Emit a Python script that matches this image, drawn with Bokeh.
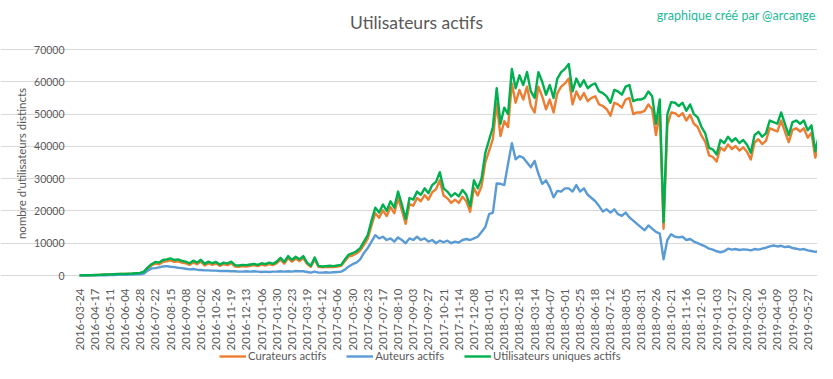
import math
import numpy as np
from bokeh.plotting import figure
from bokeh.models import (Range1d, FixedTicker, Label, Legend, LegendItem,
                          LinearAxis, Grid, BasicTickFormatter)
from bokeh.embed import file_html
from bokeh.resources import INLINE

# category labels shown every 24 points on the axis
tick_labels = [
    "2016-03-24", "2016-04-17", "2016-05-11", "2016-06-04", "2016-06-28", "2016-07-22",
    "2016-08-15", "2016-09-08", "2016-10-02", "2016-10-26", "2016-11-19", "2016-12-13",
    "2017-01-06", "2017-01-30", "2017-02-23", "2017-03-19", "2017-04-12", "2017-05-06",
    "2017-05-30", "2017-06-23", "2017-07-17", "2017-08-10", "2017-09-03", "2017-09-27",
    "2017-10-21", "2017-11-14", "2017-12-08", "2018-01-01", "2018-01-25", "2018-02-18",
    "2018-03-14", "2018-04-07", "2018-05-01", "2018-05-25", "2018-06-18", "2018-07-12",
    "2018-08-05", "2018-08-31", "2018-09-26", "2018-10-21", "2018-11-16", "2018-12-10",
    "2019-01-03", "2019-01-27", "2019-02-20", "2019-03-16", "2019-04-09", "2019-05-03",
    "2019-05-27",
]
LABEL_EVERY = 24   # categories between labels
STEP = 6           # categories between sampled values
y_ticks = [0, 10000, 20000, 30000, 40000, 50000, 60000, 70000]

uniques = [
    50, 80, 100, 120, 150, 200, 250, 300, 350, 400, 450, 500, 500, 550, 600, 700,
    800, 1200, 2500, 3500, 4200, 4000, 4800, 5000, 5300, 4800, 5000, 4500, 4300, 3800, 4600, 4000,
    4900, 3600, 4300, 3800, 4200, 3400, 4000, 3700, 4300, 3200, 3100, 3300, 3200, 3400, 3600, 3300,
    3800, 3500, 4000, 3600, 4300, 5500, 4200, 6000, 4800, 5800, 5000, 6000, 4000, 3000, 5600, 3000,
    2800, 2900, 3000, 2900, 3100, 3300, 5000, 6500, 6900, 7500, 8500, 10500, 12500, 17000, 21000, 19500,
    22000, 20000, 23000, 21000, 26000, 22000, 17500, 24000, 23500, 26000, 25000, 27000, 25500, 28000, 29000, 32000,
    27000, 26000, 24500, 25500, 24500, 26500, 25000, 21500, 29500, 27000, 30000, 38000, 42000, 46000, 58000, 47000,
    52000, 50000, 64000, 58000, 62000, 59000, 63000, 57000, 55000, 63000, 60000, 56000, 59000, 55000, 61000, 63000,
    64000, 65500, 57000, 61000, 58500, 60500, 58000, 59000, 59500, 57000, 56500, 55500, 53500, 57500, 57000, 56000,
    58500, 59000, 54000, 54500, 54500, 55000, 57000, 55500, 47000, 54500, 16500, 50000, 53700, 53500, 52500, 53500,
    51000, 53000, 50000, 49000, 46000, 44000, 39500, 39000, 37500, 42000, 41000, 43000, 41500, 42500, 41000, 42000,
    40500, 38000, 43500, 44500, 43000, 44000, 48000, 47500, 47000, 50500, 47000, 43500, 47500, 48000, 47000, 48000,
    45000, 46500, 38500, 43500,
]

curateurs = [
    40, 70, 90, 100, 130, 180, 220, 270, 310, 360, 400, 450, 450, 500, 540, 630,
    720, 1050, 2200, 3100, 3700, 3500, 4200, 4400, 4700, 4200, 4400, 4000, 3800, 3300, 4000, 3500,
    4300, 3100, 3800, 3300, 3700, 3000, 3500, 3200, 3800, 2800, 2700, 2900, 2800, 3000, 3200, 2900,
    3400, 3100, 3500, 3200, 3800, 4900, 3700, 5400, 4300, 5200, 4500, 5400, 3600, 2700, 5000, 2700,
    2500, 2600, 2700, 2600, 2800, 3000, 4500, 5900, 6200, 6800, 7700, 9500, 11400, 15500, 19300, 17900,
    20200, 18400, 21200, 19300, 24000, 20200, 16000, 22100, 21600, 24000, 23000, 24900, 23500, 25800, 26700, 29500,
    24800, 23900, 22500, 23500, 22500, 24400, 23000, 19700, 27100, 24800, 27600, 35000, 38600, 42300, 53400, 43200,
    47800, 46000, 59500, 53500, 57500, 54500, 58500, 52500, 50500, 58500, 55500, 51500, 54500, 50500, 56500, 58500,
    59500, 61000, 53000, 57000, 54500, 56500, 54000, 55000, 55500, 53000, 52500, 51500, 49500, 53500, 53000, 52000,
    54500, 55000, 50000, 50500, 50500, 51000, 53000, 51500, 43500, 50500, 14500, 46500, 50500, 50300, 49300, 50300,
    48000, 49800, 47000, 46000, 43300, 41400, 37200, 36700, 35300, 39600, 38700, 40600, 39200, 40100, 38700, 39700,
    38300, 35900, 41200, 42200, 40700, 41700, 45600, 45100, 44600, 48000, 44600, 41300, 45100, 45600, 44600, 45600,
    42700, 44200, 36500, 41300,
]

auteurs = [
    20, 30, 40, 50, 60, 70, 80, 100, 120, 150, 180, 200, 230, 260, 300, 350,
    400, 600, 1500, 2200, 2300, 2500, 2800, 2900, 2700, 2600, 2400, 2300, 2100, 1900, 2000, 1800,
    1700, 1600, 1600, 1500, 1500, 1400, 1400, 1400, 1300, 1300, 1200, 1200, 1300, 1200, 1300, 1200,
    1100, 1200, 1100, 1200, 1200, 1300, 1200, 1300, 1200, 1400, 1300, 1300, 1100, 900, 1200, 900,
    900, 1000, 900, 1000, 1100, 1200, 1800, 2800, 3500, 4000, 5000, 7000, 8500, 10500, 12500, 11500,
    12000, 11000, 11500, 10500, 11800, 11000, 10000, 11500, 11000, 12000, 11000, 11500, 10500, 11000, 10000, 10800,
    10300, 10800, 10000, 10500, 10200, 11000, 11300, 11000, 11500, 12000, 13500, 15000, 19000, 19500, 28500, 28400,
    28000, 34600, 41000, 36000, 37000, 36500, 35000, 33500, 35500, 31500, 28400, 29500, 27300, 24200, 26200, 26000,
    27000, 27000, 26000, 28000, 26000, 27000, 25000, 24000, 23000, 21500, 19800, 20500, 19500, 20500, 19000, 18500,
    19500, 18000, 17000, 16000, 15000, 14000, 15500, 14500, 13500, 13000, 5000, 11000, 12800, 12000, 11800, 12000,
    11000, 11300, 10500, 10000, 9500, 9000, 8300, 8000, 7500, 7200, 7500, 8300, 8000, 8200, 7900, 8100,
    8000, 7800, 8200, 8000, 8300, 8600, 9000, 9300, 9000, 9200, 8800, 9000, 8500, 8300, 8000, 8200,
    7800, 7600, 7300, 7600,
]

assert len(uniques) == len(curateurs) == len(auteurs), (len(uniques), len(curateurs), len(auteurs))

n = len(uniques)
x = np.arange(n) * STEP

GREY = "#595959"
FONT = "Lato"

# layout constants (pixels)
W, H = 817, 363
X0, PX_PER_CAT = 79, 0.6321          # pixel of first category, px per category
Y0, PX_PER_UNIT = 275, 226 / 70000   # pixel of value 0, px per user
X_END = 1169                         # last category covered by the gridlines

p = figure(
    title=None, width=W, height=H, min_border=0,
    x_axis_type=None, y_axis_type=None,
    x_range=Range1d(-X0 / PX_PER_CAT, (W - X0) / PX_PER_CAT),
    y_range=Range1d(-(H - Y0) / PX_PER_UNIT, Y0 / PX_PER_UNIT),
    output_backend="svg", toolbar_location=None,
)
p.outline_line_color = None

# gridlines limited to the plot area
p.add_layout(Grid(dimension=1, ticker=FixedTicker(ticks=y_ticks), bounds=(0, X_END),
                  grid_line_color="#d9d9d9", grid_line_width=1))

# x axis at y = 0
tick_pos = [i * LABEL_EVERY for i in range(len(tick_labels))]
xaxis = LinearAxis(
    fixed_location=0, ticker=FixedTicker(ticks=tick_pos),
    major_label_overrides={t: lab for t, lab in zip(tick_pos, tick_labels)},
    major_label_orientation=math.pi / 2,
    major_label_text_font=FONT, major_label_text_font_size="11.5px",
    major_label_text_color=GREY, major_label_standoff=7,
    axis_line_color=None, major_tick_line_color=None, minor_tick_line_color=None,
)
p.add_layout(xaxis, "below")

# y axis at the first category
yaxis = LinearAxis(
    fixed_location=0, ticker=FixedTicker(ticks=y_ticks),
    formatter=BasicTickFormatter(use_scientific=False),
    major_label_text_font=FONT, major_label_text_font_size="10.5px",
    major_label_text_color=GREY, major_label_standoff=9,
    axis_line_color=None, major_tick_line_color=None, minor_tick_line_color=None,
)
p.add_layout(yaxis, "left")

r_c = p.line(x, curateurs, color="#ED7D31", line_width=2.4, line_join="round")
r_a = p.line(x, auteurs, color="#5B9BD5", line_width=2.4, line_join="round")
r_u = p.line(x, uniques, color="#00B050", line_width=2.4, line_join="round")

legend = Legend(
    items=[
        LegendItem(label="Curateurs actifs", renderers=[r_c]),
        LegendItem(label="Auteurs actifs", renderers=[r_a]),
        LegendItem(label="Utilisateurs uniques actifs", renderers=[r_u]),
    ],
    orientation="horizontal",
    location=(219, 1),
    padding=0, margin=0, spacing=20,
    glyph_width=27, glyph_height=12, label_height=12,
    label_standoff=2,
    label_text_font=FONT, label_text_font_size="11.3px", label_text_color=GREY,
    border_line_color=None, background_fill_alpha=0,
)
p.add_layout(legend, "center")

# titles (screen units: x from left, y from bottom)
p.add_layout(Label(
    x=416, y=H - 22, x_units="screen", y_units="screen",
    text="Utilisateurs actifs", text_align="center", text_baseline="middle",
    text_font=FONT, text_font_size="17.5px", text_color=GREY,
))
p.add_layout(Label(
    x=W - 2, y=H - 15, x_units="screen", y_units="screen",
    text="graphique créé par @arcange", text_align="right", text_baseline="middle",
    text_font=FONT, text_font_size="12.5px", text_color="#1DB99A",
))
p.add_layout(Label(
    x=27, y=H - 163, x_units="screen", y_units="screen", angle=math.pi / 2,
    text="nombre d'utilisateurs distincts", text_align="center", text_baseline="bottom",
    text_font=FONT, text_font_size="11.5px", text_color=GREY,
))

open("out.html", "w").write(file_html(p, INLINE))
